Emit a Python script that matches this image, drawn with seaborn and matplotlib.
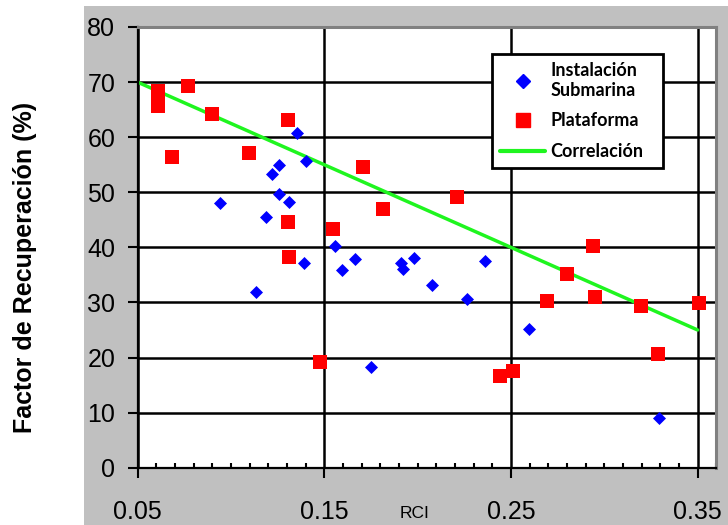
import matplotlib
matplotlib.use("Agg")
import matplotlib.pyplot as plt
import seaborn as sns
from matplotlib.lines import Line2D
from matplotlib.patches import Rectangle
from matplotlib.ticker import MultipleLocator

# Instalación submarina (blue diamonds)
sub_rci = [0.0942, 0.1135, 0.1188, 0.1222, 0.1258, 0.1258, 0.1311, 0.1354, 0.1392, 0.1401, 0.1558,
           0.1594, 0.1665, 0.1751, 0.1911, 0.1920, 0.1981, 0.2079, 0.2263, 0.2361, 0.2597, 0.3295]
sub_fr = [48.1, 31.9, 45.6, 53.3, 54.9, 49.7, 48.3, 60.8, 37.1, 55.6, 40.3,
          35.8, 37.8, 18.3, 37.2, 36.1, 38.1, 33.2, 30.6, 37.5, 25.1, 9.0]

# Plataforma (red squares)
plat_rci = [0.061, 0.061, 0.061, 0.0685, 0.0772, 0.0897, 0.1099, 0.1304, 0.1304, 0.1311, 0.1477, 0.1549,
            0.1709, 0.1815, 0.2211, 0.2442, 0.2510, 0.2695, 0.2799, 0.2941, 0.2950, 0.3197, 0.3289, 0.3508]
plat_fr = [68.3, 67.0, 65.7, 56.4, 69.3, 64.2, 57.2, 63.1, 44.6, 38.2, 19.2, 43.3,
           54.6, 46.9, 49.2, 16.6, 17.6, 30.3, 35.2, 40.3, 30.9, 29.3, 20.6, 29.9]

# Correlación (green line)
corr_rci = [0.05, 0.35]
corr_fr = [70.0, 25.0]

x_ticks = [0.05, 0.15, 0.25, 0.35]
x_ticklabels = ["0.05", "0.15", "0.25", "0.35"]
y_ticks = [0, 10, 20, 30, 40, 50, 60, 70, 80]

sns.set_style("white")
plt.rcParams["font.family"] = ["Liberation Sans", "DejaVu Sans"]
plt.rcParams["text.color"] = "black"

W, H = 728, 525
fig = plt.figure(figsize=(W / 100, H / 100), dpi=100)
fig.patches.append(Rectangle((84 / W, 0), 1 - 84 / W, 519 / H, transform=fig.transFigure,
                             facecolor="#c0c0c0", edgecolor="none", zorder=0))

left, right, top, bottom = 137.5, 716.3, 27, 467.7
ax = fig.add_axes([left / W, 1 - bottom / H, (right - left) / W, (bottom - top) / H])
ax.set_zorder(2)
ax.set_facecolor("white")

sns.lineplot(x=corr_rci, y=corr_fr, color="#1ff51f", linewidth=2.5, ax=ax, zorder=2)
sns.scatterplot(x=sub_rci, y=sub_fr, marker="D", color="#0000ff", s=44, linewidth=0, ax=ax, zorder=3)
sns.scatterplot(x=plat_rci, y=plat_fr, marker="s", color="#ff0000", s=100, linewidth=0, ax=ax, zorder=4)

ax.set_xlim(0.05, 0.36)
ax.set_ylim(0, 80)
ax.set_xticks(x_ticks)
ax.set_xticklabels(x_ticklabels)
ax.set_yticks(y_ticks)
ax.xaxis.set_minor_locator(MultipleLocator(0.01))

ax.set_axisbelow(True)
ax.grid(True, which="major", color="black", linewidth=1.8)
ax.tick_params(axis="x", which="major", direction="out", length=7, width=1.5,
               labelsize=18, pad=16, colors="black", bottom=True)
ax.tick_params(axis="x", which="minor", direction="in", length=3.6, width=1.5, bottom=True, color="black")
ax.tick_params(axis="y", which="major", direction="out", length=7, width=1.5,
               labelsize=18, pad=9, colors="black", left=True)

for side in ["left", "bottom"]:
    ax.spines[side].set_color("black")
    ax.spines[side].set_linewidth(1.6)
for side in ["top", "right"]:
    ax.spines[side].set_color("#808080")
    ax.spines[side].set_linewidth(2.2)

ax.set_xlabel("")
ax.set_ylabel("")
fig.text(25 / W, 1 - 267 / H, "Factor de Recuperación (%)", rotation=90, ha="center", va="center",
         fontsize=18, fontweight="bold", color="black")
fig.text(415 / W, 1 - 514 / H, "RCI", ha="center", va="center", fontsize=12.5, color="black")

handles = [
    Line2D([], [], marker="D", color="#0000ff", linestyle="none", markersize=7),
    Line2D([], [], marker="s", color="#ff0000", linestyle="none", markersize=10),
    Line2D([], [], color="#1ff51f", linewidth=3),
]
labels = ["Instalación\nSubmarina", "Plataforma", "Correlación"]
leg_x = (492 - left) / (right - left)
leg_top = (bottom - 54) / (bottom - top)
leg_w = (663 - 492) / (right - left)
leg = ax.legend(handles, labels, loc="upper left", bbox_to_anchor=(leg_x, 0.3, leg_w, leg_top - 0.3),
                mode="expand", borderaxespad=0, frameon=True, fancybox=False, framealpha=1,
                edgecolor="black", borderpad=0.45, labelspacing=0.75, handlelength=2.5,
                handletextpad=0.3, prop={"family": ["Lato", "DejaVu Sans"], "weight": "bold", "size": 13})
leg.get_frame().set_linewidth(2)
for t in leg.get_texts():
    t.set_color("black")

fig.savefig("out.png", dpi=100)
